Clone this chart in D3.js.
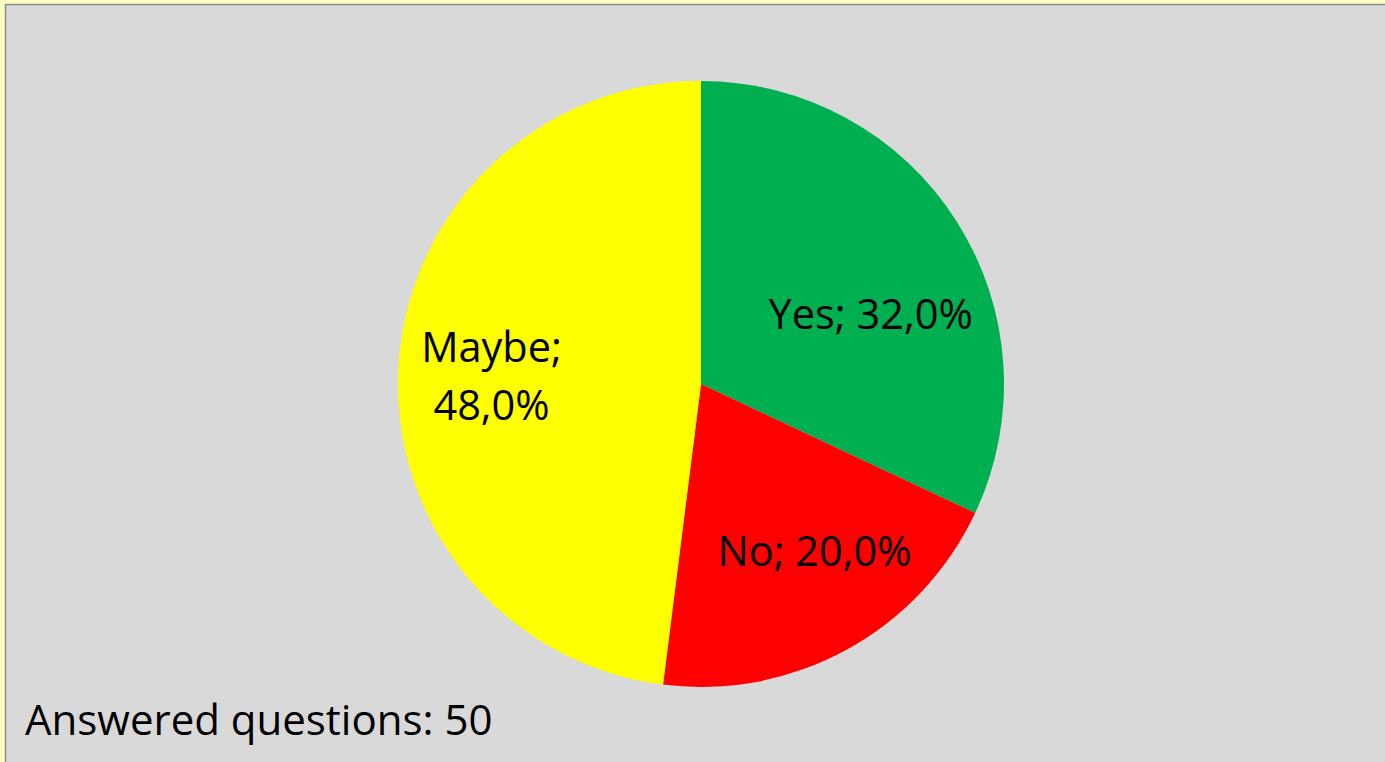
<!DOCTYPE html>
<html>
<head>
<meta charset="utf-8">
<script src="https://cdn.jsdelivr.net/npm/d3@7"></script>
<style>
  body { margin: 0; background: #ffffc4; }
  svg { display: block; }
  text { font-family: "Open Sans", "Noto Sans", sans-serif; fill: #000; }
</style>
</head>
<body>
<svg id="chart"></svg>
<script>
var categories = ["Yes", "No", "Maybe"];
var values = [32.0, 20.0, 48.0];
var colors = ["#00b050", "#ff0000", "#ffff00"];
var answered = 50;

var width = 1385, height = 762;

var svg = d3.select("#chart")
    .attr("width", width)
    .attr("height", height);

// plot area with a thin grey edge inside the pale yellow frame
svg.append("rect")
    .attr("x", 5.5).attr("y", 4.5)
    .attr("width", width).attr("height", height)
    .attr("fill", "#d9d9d9")
    .attr("stroke", "#8c8c8c")
    .attr("stroke-width", 1.5);

var cx = 701, cy = 384, r = 303;

var pie = d3.pie().sort(null).value(function(d) { return d; });
var arc = d3.arc().innerRadius(0).outerRadius(r);

var data = pie(values);

var g = svg.append("g").attr("transform", "translate(" + cx + "," + cy + ")");

g.selectAll("path").data(data)
    .enter().append("path")
    .attr("d", arc)
    .attr("fill", function(d, i) { return colors[i]; });

var fmt = function(v) { return v.toFixed(1).replace(".", ",") + "%"; };

// labels sit near the slice centroid, nudged like Excel's best fit
var labelArc = d3.arc().innerRadius(r * 0.62).outerRadius(r * 0.62);
var nudge = [[11, 46], [23, 17], [-22, -9]];

g.selectAll("text.lbl").data(data)
    .enter().append("text")
    .attr("class", "lbl")
    .attr("text-anchor", "middle")
    .style("font-size", "41.5px")
    .each(function(d, i) {
        var t = d3.select(this);
        var c = labelArc.centroid(d);
        var x = c[0] + nudge[i][0], y = c[1] + nudge[i][1];
        if (categories[i] === "Maybe") {
            t.append("tspan").attr("x", x).attr("y", y - 1).text(categories[i] + ";");
            t.append("tspan").attr("x", x).attr("y", y + 57).text(fmt(values[i]));
        } else {
            t.attr("x", x).attr("y", y).text(categories[i] + "; " + fmt(values[i]));
        }
    });

svg.append("text")
    .attr("x", 25).attr("y", 735)
    .style("font-size", "42px")
    .text("Answered questions: " + answered);
</script>
</body>
</html>
